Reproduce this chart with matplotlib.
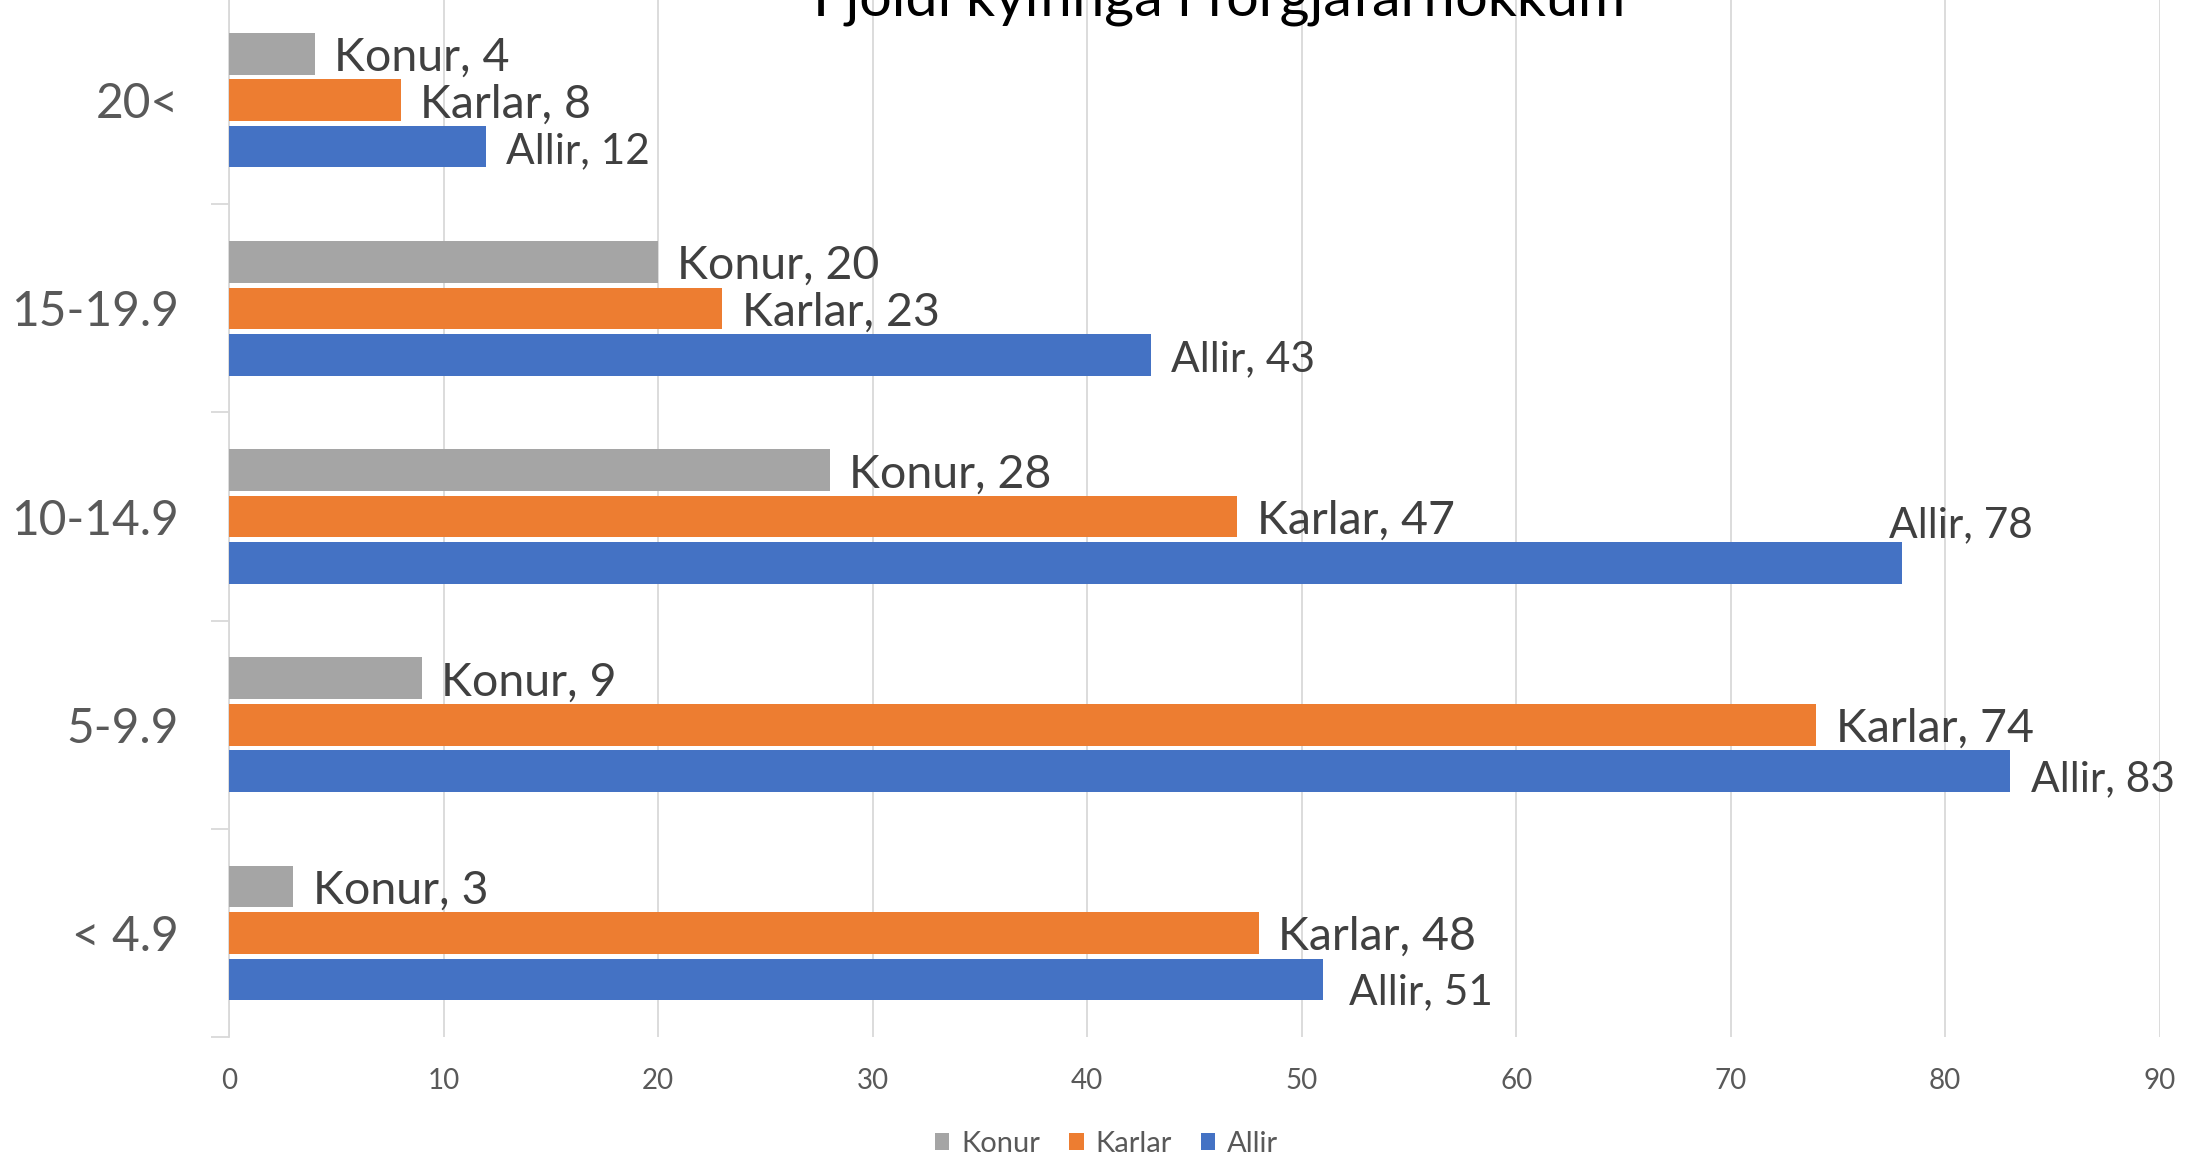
import matplotlib
matplotlib.use("Agg")
import matplotlib.pyplot as plt
from matplotlib.patches import Patch

plt.rcParams['font.family'] = ['Lato', 'DejaVu Sans']

# data
categories = ["< 4.9", "5-9.9", "10-14.9", "15-19.9", "20<"]
konur = [3, 9, 28, 20, 4]
karlar = [48, 74, 47, 23, 8]
allir = [51, 83, 78, 43, 12]
series_names = ["Konur", "Karlar", "Allir"]
x_ticks = [0, 10, 20, 30, 40, 50, 60, 70, 80, 90]

colors = {"Konur": "#A5A5A5", "Karlar": "#ED7D31", "Allir": "#4472C4"}

fig = plt.figure(figsize=(22.04, 11.67), dpi=100)
ax = fig.add_axes([0.1039, 0.1114, 0.876, 0.892])

pitch = 0.223
height = 0.2
offsets = {"Konur": pitch, "Karlar": 0.0, "Allir": -pitch}
values = {"Konur": konur, "Karlar": karlar, "Allir": allir}

# label tweaks (x shift in data units, y shift in category units)
label_shift = {
    ("Allir", 2): (-1.5, 0.20),
    ("Allir", 1): (0.1, -0.02),
    ("Allir", 0): (0.3, -0.04),
}

for name in series_names:
    ys = [i + offsets[name] for i in range(len(categories))]
    ax.barh(ys, values[name], height=height, color=colors[name], zorder=3)
    fs = 33.5 if name != "Allir" else 30.5
    for i, v in enumerate(values[name]):
        dx, dy = label_shift.get((name, i), (0.0, 0.0))
        ax.text(v + 0.9 + dx, ys[i] + dy - 0.02, f"{name}, {v}", fontsize=fs,
                color="#404040", va="center", ha="left", zorder=4)

ax.set_xlim(0, 90)
ax.set_ylim(-0.5, len(categories) - 0.5)
ax.set_xticks(x_ticks)
ax.tick_params(axis="x", length=0, labelsize=20, labelcolor="#595959", pad=22)
ax.set_yticks(range(len(categories)))
ax.set_yticklabels(categories)
ax.tick_params(axis="y", which="major", length=0, labelsize=34.5, labelcolor="#595959", pad=36)
ax.set_yticks([i - 0.5 for i in range(len(categories) + 1)], minor=True)
ax.tick_params(axis="y", which="minor", length=13, color="#D9D9D9", width=1.3)

ax.grid(axis="x", color="#D9D9D9", linewidth=1.3, zorder=0)
for s in ["top", "right", "bottom"]:
    ax.spines[s].set_visible(False)
ax.spines["left"].set_color("#D9D9D9")
ax.spines["left"].set_linewidth(1.3)

# the title sits mostly above the visible area in the original
fig.text(0.553, 0.987, "Fjöldi kylfinga í forgjafarflokkum", fontsize=41.4,
         color="#000000", ha="center", va="baseline")

handles = [Patch(facecolor=colors[n], label=n) for n in series_names]
fig.legend(handles=handles, loc="center", bbox_to_anchor=(0.502, 0.020), ncol=3,
           frameon=False, fontsize=21, labelcolor="#595959",
           handlelength=0.5, handleheight=0.5, handletextpad=0.4, columnspacing=1.0)

fig.savefig("out.png", dpi=100)
